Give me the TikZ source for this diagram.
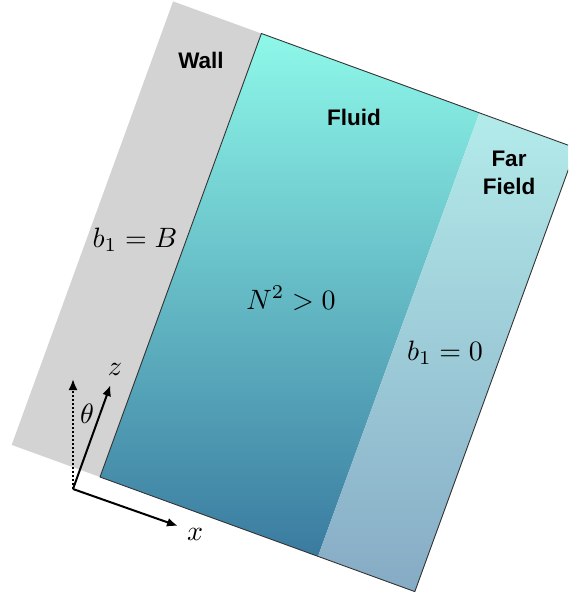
\documentclass[tikz,border=0pt]{standalone}
\usepackage{fontspec}
\newfontfamily\lsans{Liberation Sans}
\usetikzlibrary{arrows.meta}
\definecolor{wallgray}{HTML}{D3D3D3}
\definecolor{fluidtop}{HTML}{8EF8E9}
\definecolor{fluidbot}{HTML}{3A7BA0}
\definecolor{fartop}{HTML}{B3EBEA}
\definecolor{farbot}{HTML}{86ABC5}
\definecolor{edgegray}{HTML}{333333}
\tikzset{
  region label/.style={font=\lsans\bfseries\fontsize{22.5}{28}\selectfont, align=center, inner sep=0pt},
  math label/.style={scale=2.8, inner sep=0pt},
  axis arrow/.style={line width=2pt, -{Latex[length=11pt,width=9pt]}},
}
\begin{document}
\begin{tikzpicture}[x=1pt,y=-1pt]
\useasboundingbox (0,0) rectangle (568,599);
\clip (0,0) rectangle (568,599);
% corners
\coordinate (wtl) at (173.1,1.4);
\coordinate (wbl) at (11.7,444.9);
\coordinate (ftl) at (261.4,33.5);
\coordinate (fbl) at (100,477);
\coordinate (ftr) at (479.4,112.9);
\coordinate (fbr) at (318.0,556.3);
\coordinate (otr) at (576.2,148.1);
\coordinate (obr) at (414.8,591.6);
% wall
\fill[wallgray] (wtl) -- (ftl) -- (fbl) -- (wbl) -- cycle;
% fluid
\shade[top color=fluidtop, bottom color=fluidbot] (ftl) -- (ftr) -- (fbr) -- (fbl) -- cycle;
% far field
\shade[top color=fartop, bottom color=farbot] (ftr) -- (otr) -- (obr) -- (fbr) -- cycle;
% outline
\draw[edgegray, line width=0.9pt, line join=round] (ftl) -- (otr) -- (obr) -- (fbl) -- cycle;
% labels
\node[region label] (wall) at (201,60) {Wall};
\node[region label] (fluid) at (354,117) {Fluid};
\node[region label] (far) at (509,173) {Far\\Field};
\node[math label, anchor=base] (bB) at (135,247) {$b_1 = B$};
\node[math label, anchor=base] (N2) at (291,309) {$N^2 > 0$};
\node[math label, anchor=base] (b0) at (445,360) {$b_1 = 0$};
% axes
\coordinate (o) at (73,489);
\coordinate (zt) at (110.5,385);
\coordinate (xt) at (178,526);
\coordinate (vt) at (73,379);
\draw[axis arrow, dotted] (o) -- (vt);
\draw[axis arrow] (o) -- (zt);
\draw[axis arrow] (o) -- (xt);
\node[math label] (zl) at (115,369) {$z$};
\node[math label] (xl) at (195,534) {$x$};
\node[math label] (tl) at (87,414) {$\theta$};
\end{tikzpicture}
\end{document}
